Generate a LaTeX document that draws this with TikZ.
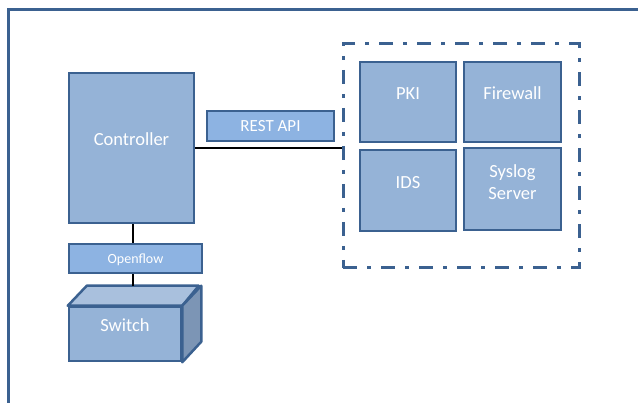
\documentclass[tikz,border=0pt]{standalone}
\usepackage{fontspec}
\setmainfont{Carlito}
\usepackage{tikz}

\definecolor{boxline}{HTML}{3B6190}
\definecolor{boxfill}{HTML}{95B3D7}
\definecolor{tagfill}{HTML}{8DB3E2}
\definecolor{topfill}{HTML}{A9C0DD}
\definecolor{sidefill}{HTML}{7C95B5}

\begin{document}
\begin{tikzpicture}
		[x=1pt, y=-1pt,
		 blk/.style={draw=boxline, line width=2.5pt, fill=boxfill, text=white, inner sep=0pt, align=center, text depth=17pt, font=\fontsize{18.5}{22}\selectfont},
		 tag/.style={blk, fill=tagfill, text depth=0pt},
		 wire/.style={black, line width=1.5pt}]
		\useasboundingbox (0,0) rectangle (638,403);
		% outer frame, cut off on the right and at the bottom
		\draw[boxline, line width=3pt] (8,403) -- (8,10) -- (638,10);
		
		\node [blk, minimum width=125pt, minimum height=150pt](ctrl) at (131.5,148) {Controller};
		\node [tag, minimum width=133pt, minimum height=29pt, font=\fontsize{14}{16}\selectfont](flow) at (135.5,258.5) {Openflow};
		\node [tag, minimum width=127pt, minimum height=30pt, font=\fontsize{17}{19}\selectfont](rest) at (270.5,126) {REST API};
		
		% switch as a box
		\node [blk, minimum width=112pt, minimum height=54pt](sw) at (125,334) {Switch};
		\draw[boxline, line width=2.5pt, fill=topfill, line join=round] (sw.north west) -- ++(19,-20) -- ++(112,0) -- (sw.north east) -- cycle;
		\draw[boxline, line width=2.5pt, fill=sidefill, line join=round] (sw.north east) -- ++(19,-20) -- ++(0,56) -- (sw.south east) -- cycle;
		\coordinate (swtop) at (133,286);
		
		% security services
		\node [draw=boxline, line width=3pt, dash pattern=on 14pt off 10pt on 4pt off 10pt, minimum width=236pt, minimum height=224pt](svc) at (461,156) {};
		\node [blk, minimum width=96pt, minimum height=80pt](pki) at (408,102) {PKI};
		\node [blk, minimum width=97pt, minimum height=80pt](fw) at (512.5,102) {Firewall};
		\node [blk, minimum width=96pt, minimum height=81pt](ids) at (408,190.5) {IDS};
		\node [blk, minimum width=97pt, minimum height=82pt, text depth=13pt](sys) at (512.5,189) {Syslog\\Server};
		
		\draw[wire] (ctrl.south -| swtop) -- (flow.north -| swtop);
		\draw[wire] (flow.south -| swtop) -- (swtop);
		\draw[wire] (ctrl.east) -- (ctrl.east -| svc.west);
		\end{tikzpicture}
\end{document}
